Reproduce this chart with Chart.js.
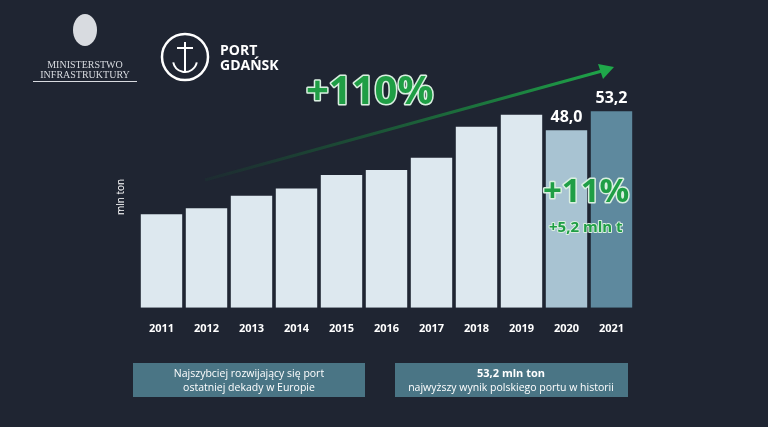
<!DOCTYPE html>
<html><head><meta charset="utf-8">
<script src="https://cdn.jsdelivr.net/npm/chart.js@4"></script>
<style>html,body{margin:0;background:#1f2532}canvas{display:block}</style>
</head><body>
<div style="width:768px;height:427px"><canvas id="c"></canvas></div>
<script>
const years = ['2011','2012','2013','2014','2015','2016','2017','2018','2019','2020','2021'];
const tonnage = [25.3, 26.9, 30.3, 32.3, 35.9, 37.3, 40.6, 49.0, 52.2, 48.0, 53.2];
const barColors = ['#dde8ef','#dde8ef','#dde8ef','#dde8ef','#dde8ef','#dde8ef','#dde8ef','#dde8ef','#dde8ef','#a8c3d2','#5e899e'];
const shownLabels = {9: '48,0', 10: '53,2'};

const decor = {
    id: 'decor',
    afterDraw(chart) {
        const ctx = chart.ctx;
        const meta = chart.getDatasetMeta(0);
        ctx.save();
        // value labels
        ctx.fillStyle = '#ffffff';
        ctx.font = 'bold 16px "Open Sans", sans-serif';
        ctx.textAlign = 'center';
        ctx.textBaseline = 'bottom';
        Object.keys(shownLabels).forEach(function (i) {
            const el = meta.data[i];
            ctx.fillText(shownLabels[i], el.x, el.y - 5);
        });
        // arrow
        const g = ctx.createLinearGradient(205, 180, 610, 68);
        g.addColorStop(0, 'rgba(20,110,50,0.1)');
        g.addColorStop(1, '#1fa84a');
        ctx.strokeStyle = g;
        ctx.lineWidth = 3;
        ctx.beginPath(); ctx.moveTo(205, 180); ctx.lineTo(602, 71); ctx.stroke();
        ctx.fillStyle = '#1fa84a';
        ctx.beginPath(); ctx.moveTo(614, 67); ctx.lineTo(598, 64); ctx.lineTo(603, 79); ctx.closePath(); ctx.fill();
        // big numbers
        ctx.textAlign = 'left';
        ctx.textBaseline = 'alphabetic';
        ctx.lineJoin = 'round';
        ctx.font = 'bold 40px "Open Sans", sans-serif';
        ctx.strokeStyle = '#d9efe0'; ctx.lineWidth = 3;
        ctx.strokeText('+110%', 306, 104);
        ctx.fillStyle = '#1f9e45';
        ctx.fillText('+110%', 306, 104);
        ctx.font = 'bold 33px "Open Sans", sans-serif';
        ctx.strokeText('+11%', 543, 202);
        ctx.fillText('+11%', 543, 202);
        ctx.font = 'bold 15px "Open Sans", sans-serif';
        ctx.lineWidth = 2;
        ctx.strokeText('+5,2 mln t', 549, 232);
        ctx.fillText('+5,2 mln t', 549, 232);
        // bottom boxes
        ctx.fillStyle = '#4a7585';
        ctx.fillRect(133, 363, 232, 34);
        ctx.fillRect(395, 363, 233, 34);
        ctx.fillStyle = '#ffffff';
        ctx.textAlign = 'center';
        ctx.font = '10.5px "Open Sans", sans-serif';
        ctx.fillText('Najszybciej rozwijający się port', 249, 377);
        ctx.fillText('ostatniej dekady w Europie', 249, 391);
        ctx.font = 'bold 11px "Open Sans", sans-serif';
        ctx.fillText('53,2 mln ton', 511, 377);
        ctx.font = '10.5px "Open Sans", sans-serif';
        ctx.fillText('najwyższy wynik polskiego portu w historii', 511, 391);
        // logos
        ctx.fillStyle = '#d8dbe0';
        ctx.font = '10px "Liberation Serif", serif';
        ctx.fillText('MINISTERSTWO', 85, 68);
        ctx.fillText('INFRASTRUKTURY', 85, 78);
        ctx.fillRect(33, 81, 104, 1);
        ctx.beginPath(); ctx.ellipse(85, 30, 12, 16, 0, 0, Math.PI * 2); ctx.fill();
        ctx.strokeStyle = '#ffffff'; ctx.lineWidth = 2.5;
        ctx.beginPath(); ctx.arc(185, 57, 23, 0, Math.PI * 2); ctx.stroke();
        ctx.lineWidth = 2;
        ctx.beginPath(); ctx.moveTo(185, 42); ctx.lineTo(185, 72); ctx.stroke();
        ctx.beginPath(); ctx.moveTo(177, 48); ctx.lineTo(193, 48); ctx.stroke();
        ctx.beginPath(); ctx.arc(185, 60, 12, 0.2, Math.PI - 0.2); ctx.stroke();
        ctx.fillStyle = '#ffffff';
        ctx.textAlign = 'left';
        ctx.font = 'bold 14px "Open Sans", sans-serif';
        ctx.fillText('PORT', 220, 55);
        ctx.fillText('GDAŃSK', 220, 70);
        ctx.restore();
    }
};

new Chart(document.getElementById('c').getContext('2d'), {
    type: 'bar',
    data: {
        labels: years,
        datasets: [{
            data: tonnage,
            backgroundColor: barColors,
            barPercentage: 0.92,
            categoryPercentage: 1
        }]
    },
    options: {
        responsive: true,
        maintainAspectRatio: false,
        animation: false,
        layout: { padding: { top: 86, left: 111, right: 134, bottom: 86 } },
        plugins: { legend: { display: false }, tooltip: { enabled: false } },
        scales: {
            x: {
                grid: { display: false },
                border: { display: false },
                ticks: { color: '#ffffff', font: { family: 'Open Sans', size: 11, weight: 'bold' }, padding: 6 }
            },
            y: {
                min: 0, max: 60,
                grid: { display: false },
                border: { display: false },
                ticks: { display: false },
                title: { display: true, text: 'mln ton', color: '#ffffff', font: { family: 'Open Sans', size: 10 } }
            }
        }
    },
    plugins: [decor]
});
</script>
</body></html>
